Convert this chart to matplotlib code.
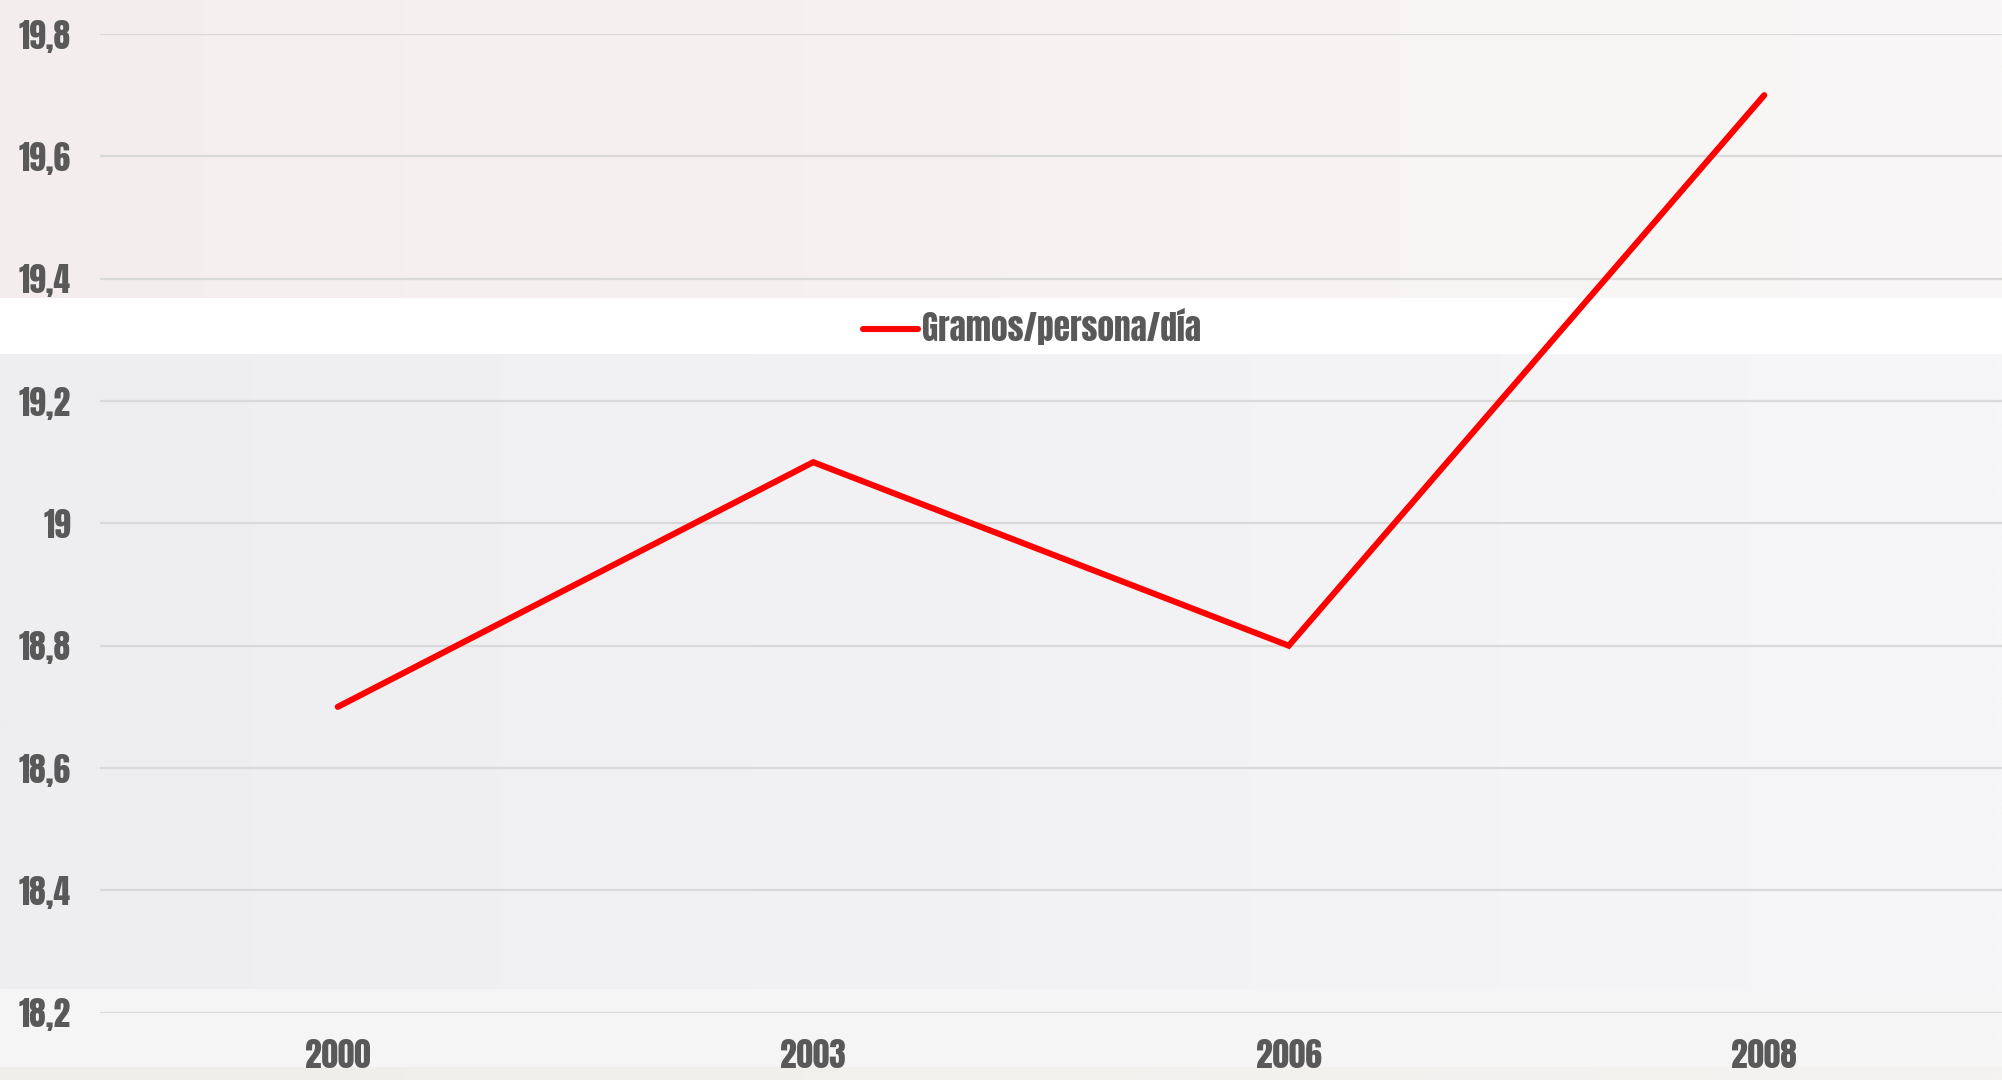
import numpy as np
import matplotlib
matplotlib.use("Agg")
import matplotlib.pyplot as plt

# --- data ---
years = ["2000", "2003", "2006", "2008"]
gramos = [18.7, 19.1, 18.8, 19.7]
y_ticks = [18.2, 18.4, 18.6, 18.8, 19.0, 19.2, 19.4, 19.6, 19.8]
y_labels = ["18,2", "18,4", "18,6", "18,8", "19", "19,2", "19,4", "19,6", "19,8"]
serie_label = "Gramos/persona/día"

W, H = 2002, 1080
FONT = ["Anton", "Fjalla One", "DejaVu Sans"]
TXT = "#595959"
FS = 24


def hband(ax, y0, y1, c_left, c_right):
    """Horizontal gradient band between figure pixel rows y0..y1 (from top)."""
    c_left = np.array(c_left) / 255.0
    c_right = np.array(c_right) / 255.0
    t = np.linspace(0, 1, 256)[None, :, None]
    img = c_left + (c_right - c_left) * t
    ax.imshow(img, extent=(0, W, H - y1, H - y0), aspect="auto", interpolation="bilinear")


fig = plt.figure(figsize=(W / 100, H / 100), dpi=100)

# background bands
bg = fig.add_axes([0, 0, 1, 1], zorder=0)
bg.set_xlim(0, W)
bg.set_ylim(0, H)
bg.axis("off")
hband(bg, 0, 298, (244, 237, 237), (249, 247, 247))
hband(bg, 298, 354, (255, 255, 255), (255, 255, 255))
hband(bg, 354, 989, (238, 238, 241), (246, 246, 248))
hband(bg, 989, 1067, (245, 245, 245), (246, 246, 246))
hband(bg, 1067, H, (240, 238, 234), (244, 243, 241))

# main chart
ax = fig.add_axes([100 / W, 1 - 1012.7 / H, 1 - 100 / W, (1012.7 - 34) / H], zorder=1)
ax.patch.set_alpha(0)
x = np.arange(len(years))
ax.plot(x, gramos, color="#FF0000", lw=4.4, solid_capstyle="round",
        solid_joinstyle="miter", label=serie_label, zorder=3)

ax.set_xlim(-0.5, len(years) - 0.5)
ax.set_ylim(y_ticks[0], y_ticks[-1])
ax.set_yticks(y_ticks)
ax.set_yticklabels(y_labels)
ax.set_xticks(x)
ax.set_xticklabels(years)
ax.grid(axis="y", color="#D9D9D9", lw=1.6)
ax.set_axisbelow(True)
for s in ax.spines.values():
    s.set_visible(False)
ax.tick_params(length=0, colors=TXT, labelsize=FS)
ax.tick_params(axis="y", pad=21)
ax.tick_params(axis="x", pad=19)
for lab in ax.get_xticklabels() + ax.get_yticklabels():
    lab.set_family(FONT)
    lab.set_fontweight("bold")

leg = ax.legend(loc="center left", bbox_to_anchor=(863 / W, 1 - 326 / H),
                bbox_transform=fig.transFigure, frameon=False,
                borderpad=0, borderaxespad=0, handlelength=1.65, handletextpad=0.12,
                prop={"family": FONT, "weight": "bold", "size": FS})
for t in leg.get_texts():
    t.set_color(TXT)

fig.savefig("out.png", dpi=100)
